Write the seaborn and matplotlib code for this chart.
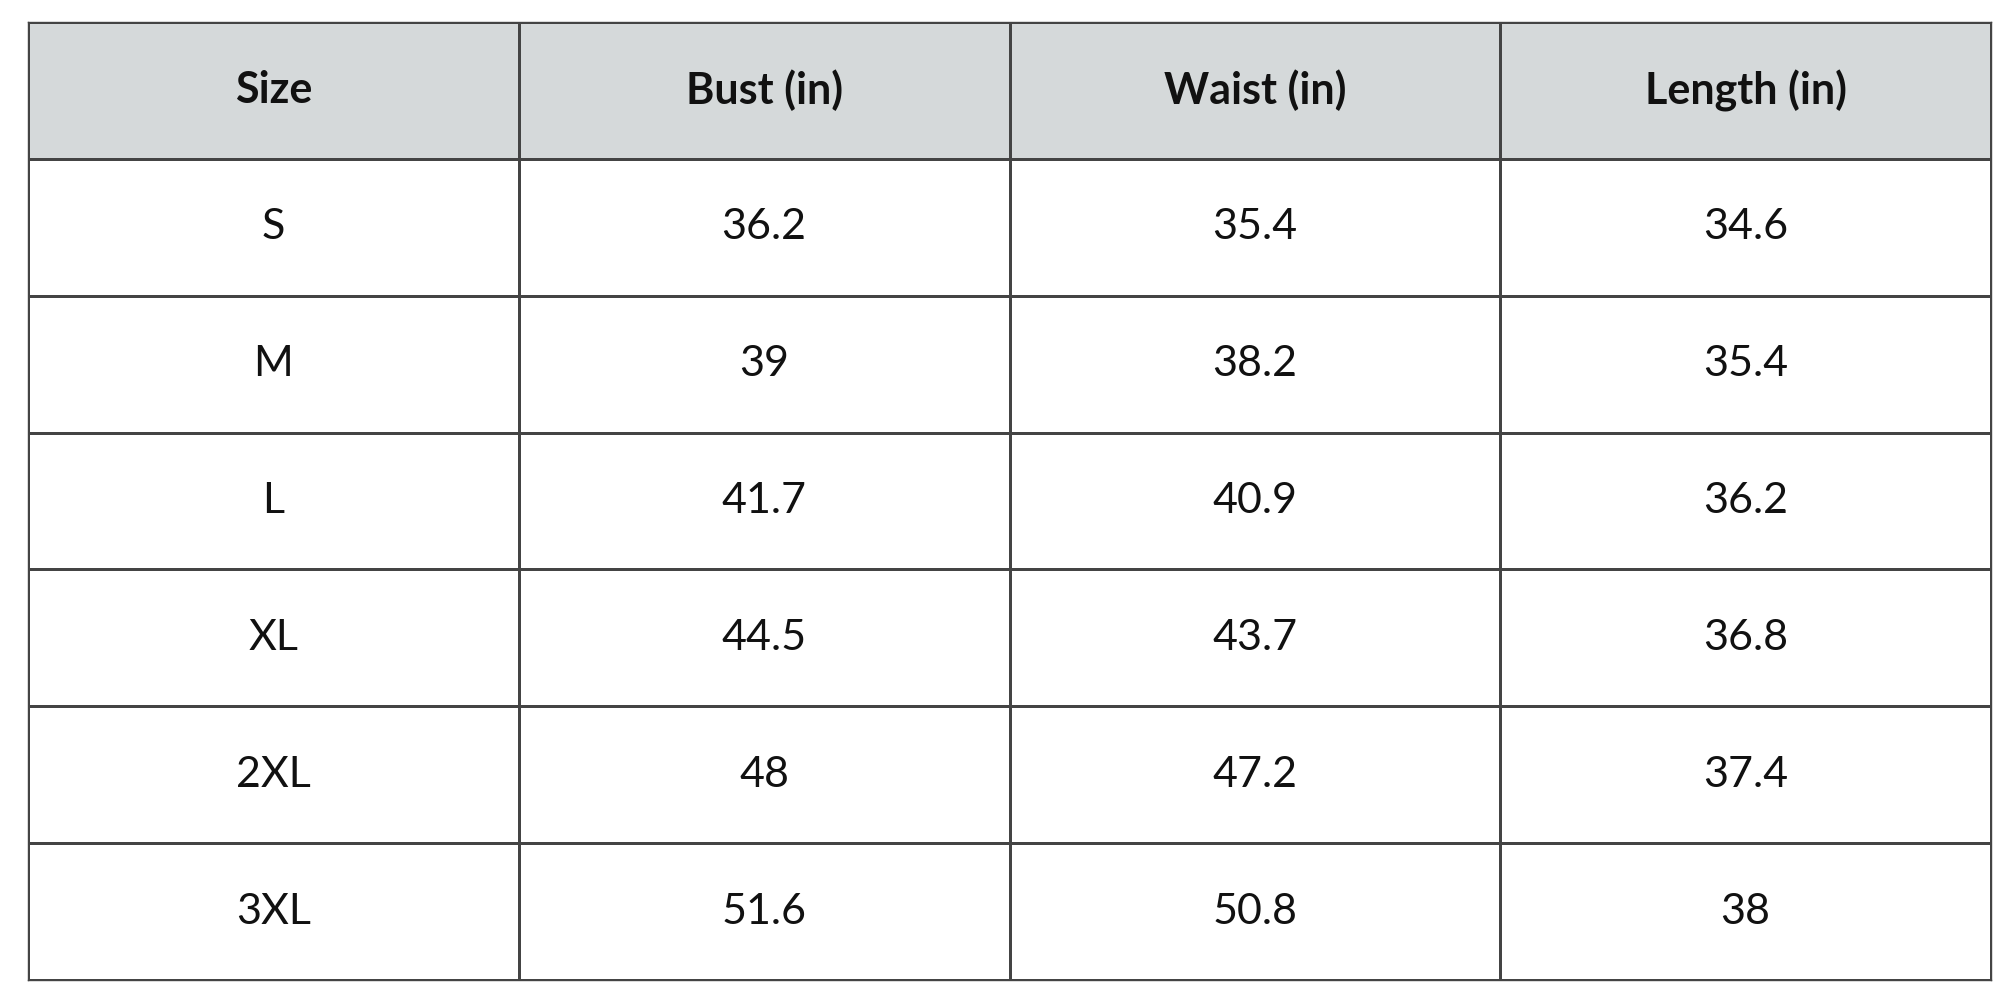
import numpy as np
import matplotlib
matplotlib.use("Agg")
import matplotlib.pyplot as plt
from matplotlib.colors import ListedColormap
import seaborn as sns

columns = ["Size", "Bust (in)", "Waist (in)", "Length (in)"]
sizes = ["S", "M", "L", "XL", "2XL", "3XL"]
bust = ["36.2", "39", "41.7", "44.5", "48", "51.6"]
waist = ["35.4", "38.2", "40.9", "43.7", "47.2", "50.8"]
length = ["34.6", "35.4", "36.2", "36.8", "37.4", "38"]

labels = np.array([columns] + [[s, b, w, l] for s, b, w, l in zip(sizes, bust, waist, length)])
shade = np.zeros(labels.shape)
shade[0, :] = 1

sns.set_theme(style="white")
plt.rcParams['font.family'] = ['Lato', 'DejaVu Sans']

fig = plt.figure(figsize=(20, 10), dpi=100)
ax = fig.add_axes([0.014, 0.02, 0.9815, 0.958])
sns.heatmap(shade, ax=ax, cmap=ListedColormap(['white', '#d5d9da']), cbar=False,
            annot=labels, fmt="", linewidths=1.0, linecolor='#444444',
            annot_kws={'fontsize': 31, 'color': '#111111'})
for i, t in enumerate(ax.texts):
    if i < 4:
        t.set_fontweight('bold')
ax.set_xticks([]); ax.set_yticks([])
for s in ax.spines.values():
    s.set_visible(True); s.set_color('#444444'); s.set_linewidth(1.0)
fig.savefig("out.png", facecolor='white')
